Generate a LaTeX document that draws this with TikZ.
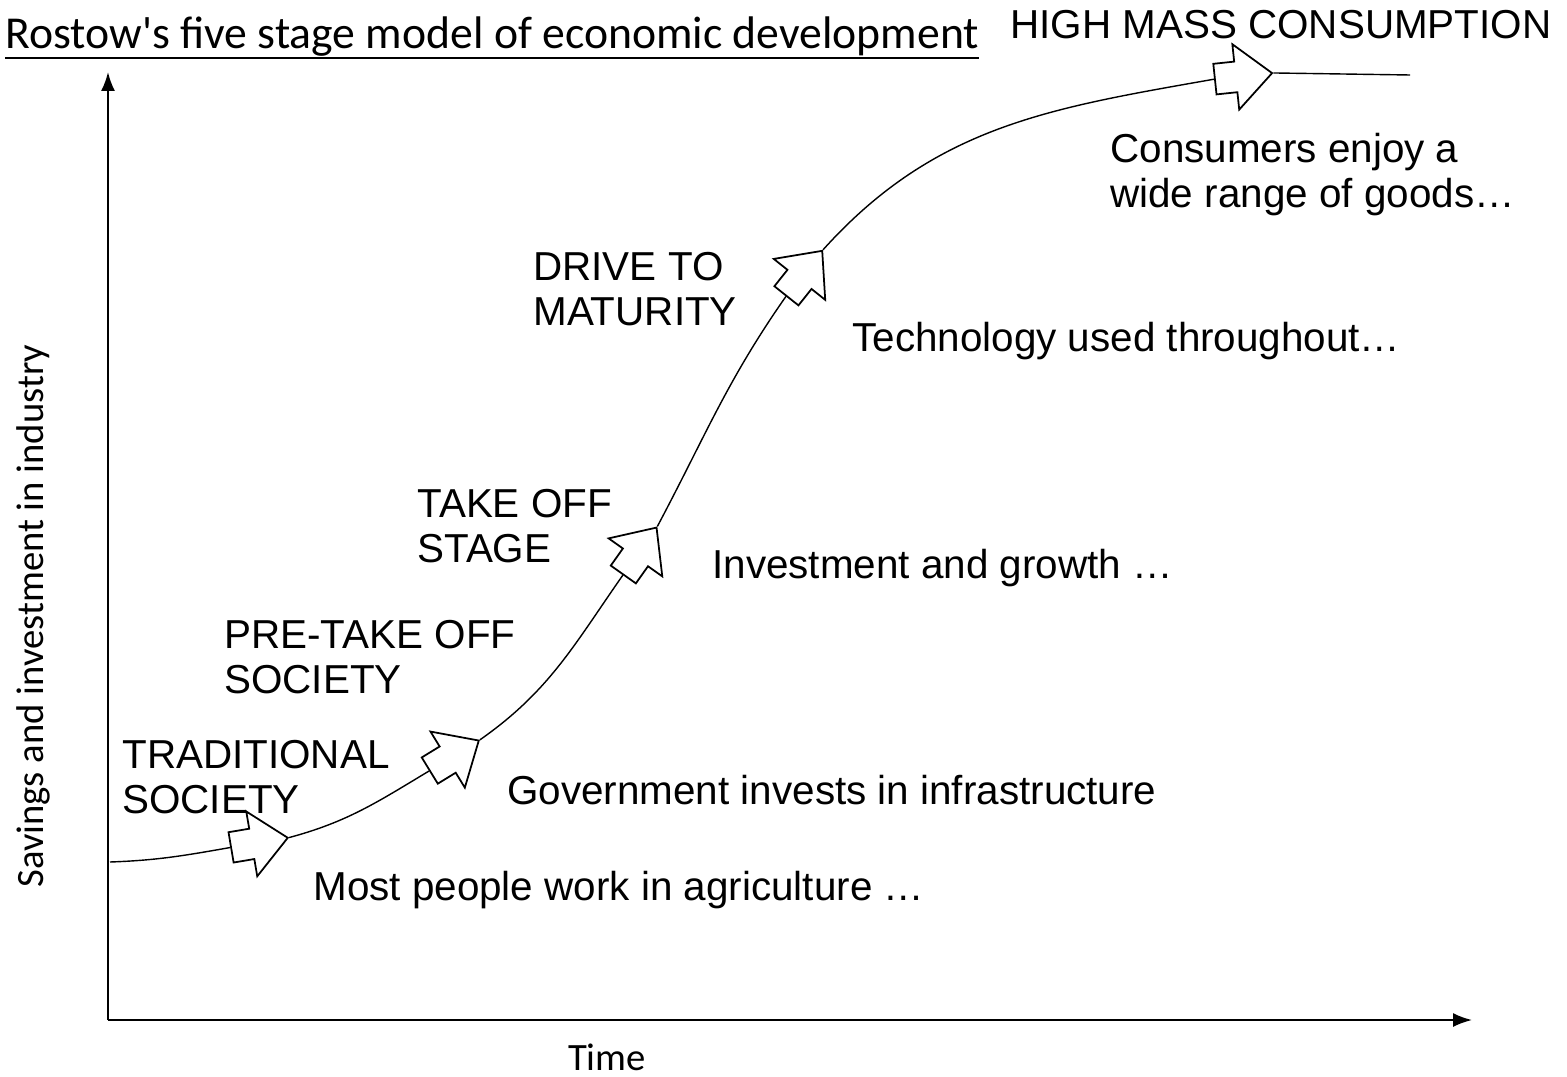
\documentclass[tikz,border=0pt]{standalone}
\usepackage{fontspec}
\setmainfont{Liberation Sans}
\newfontfamily\axisfont{Carlito}
\usetikzlibrary{shapes.arrows,arrows.meta}

\begin{document}
\begin{tikzpicture}[x=0.02cm,y=-0.02cm,
    stagearrow/.style={single arrow,draw,line width=1pt,fill=white,inner xsep=0pt,inner ysep=0.29cm,
      minimum height=1.15cm,single arrow head extend=0.35cm,
      single arrow tip angle=84},
    stagetext/.style={font=\fontsize{23}{25.5}\selectfont,align=left,inner sep=0pt},
    axistext/.style={font=\axisfont\fontsize{22}{26}\selectfont,inner sep=0pt}]
            \useasboundingbox (0,0) rectangle (1567,1077);

            \node[font=\axisfont\fontsize{26}{29}\selectfont,inner sep=0pt,anchor=base west] (title) at (5,49)
              {Rostow's five stage model of economic development};
            \draw[line width=1.4pt] ([yshift=-5pt]title.base west) -- ([yshift=-5pt]title.base east);

            \coordinate (origin) at (108,1020);
            \coordinate (ytop) at (108,72);
            \coordinate (xend) at (1472,1020);
            \draw[line width=1.1pt,-{Latex[length=0.38cm,width=0.28cm]}] (origin) -- (ytop);
            \draw[line width=1.1pt,-{Latex[length=0.38cm,width=0.28cm]}] (origin) -- (xend);
            \node[axistext,anchor=base] (time) at (607,1070) {Time};
            \node[axistext,anchor=base,rotate=90] (savings) at (43,616) {Savings and investment in industry};

            \node[stagearrow,rotate=9.6] (a1) at (251,844) {};
            \node[stagearrow,rotate=31.5] (a2) at (447,760) {};
            \node[stagearrow,rotate=54.7] (a3) at (635,558) {};
            \node[stagearrow,rotate=51.5] (a4) at (799,280) {};
            \node[stagearrow,rotate=6] (a5) at (1235,77) {};

            \coordinate (start) at (110,862);
            \coordinate (finish) at (1410,75);
            \draw[line width=0.8pt] (start) to[out=2,in=190] (a1.tail);
            \draw[line width=0.8pt] (a1.tip) to[out=15,in=211] (a2.tail);
            \draw[line width=0.8pt] (a2.tip) to[out=35,in=235] (a3.tail);
            \draw[line width=0.8pt] (a3.tip) to[out=62,in=235] (a4.tail);
            \draw[line width=0.8pt] (a4.tip) to[out=48,in=190] (a5.tail);
            \draw[line width=0.8pt] (a5.tip) -- (finish);

            \node[stagetext,anchor=base west] (mass) at (1010,39) {HIGH MASS CONSUMPTION};
            \node[stagetext,anchor=north west] (consumers) at (1110,133) {Consumers enjoy a\\wide range of goods\dots};
            \node[stagetext,anchor=north west] (drive) at (533,252) {DRIVE TO\\MATURITY};
            \node[stagetext,anchor=base west] (technology) at (852,352) {Technology used throughout\dots};
            \node[stagetext,anchor=north west] (takeoff) at (417,489) {TAKE OFF\\STAGE};
            \node[stagetext,anchor=base west] (investment) at (712,578) {Investment and growth \dots};
            \node[stagetext,anchor=north west] (pretakeoff) at (224,620) {PRE-TAKE OFF\\SOCIETY};
            \node[stagetext,anchor=north west] (traditional) at (122,740) {TRADITIONAL\\SOCIETY};
            \node[stagetext,anchor=base west] (government) at (507,804) {Government invests in infrastructure};
            \node[stagetext,anchor=base west] (agriculture) at (313,900) {Most people work in agriculture \dots};
          \end{tikzpicture}
\end{document}
